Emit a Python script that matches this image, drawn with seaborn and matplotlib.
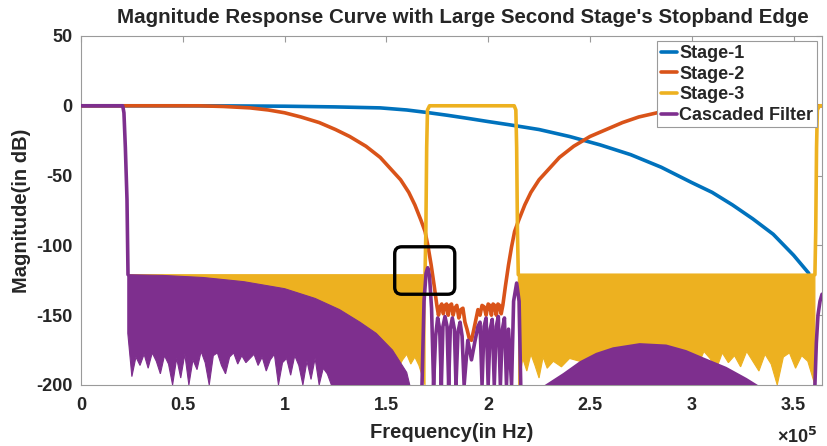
import numpy as np
import pandas as pd
import matplotlib
matplotlib.use("Agg")
import matplotlib.pyplot as plt
import seaborn as sns
from matplotlib.lines import Line2D
from matplotlib.patches import FancyBboxPatch

sns.set_style("white")
plt.rcParams["font.family"] = ["Liberation Sans", "DejaVu Sans"]
plt.rcParams["font.weight"] = "bold"

SCALE = 1e5  # frequency values below are in units of 1e5 Hz

# ---------------- data ----------------
stage1_f = [0, 0.5, 0.75, 1.0, 1.25, 1.47, 1.6, 1.7, 1.8, 1.9, 2.0, 2.1, 2.25, 2.4,
            2.55, 2.7, 2.85, 3.0, 3.1, 3.2, 3.3, 3.4, 3.5, 3.575]
stage1_db = [0, 0, -0.1, -0.3, -0.8, -1.5, -3, -4.8, -6.8, -9, -11.3, -13.5, -17, -22,
             -28, -35, -44, -55, -62, -71, -81, -92, -107, -120]

stage2_f = [0, 0.5, 0.58, 0.7, 0.83, 0.92, 1.0, 1.08, 1.17, 1.25, 1.32, 1.40, 1.47,
            1.52, 1.57, 1.61, 1.64, 1.67, 1.69, 1.705, 1.72, 1.735, 1.748,
            1.756, 1.764, 1.772, 1.780, 1.788, 1.796, 1.804, 1.812, 1.820, 1.828,
            1.836, 1.846, 1.856, 1.866, 1.876, 1.886, 1.896, 1.906, 1.918,
            1.930, 1.940, 1.950, 1.960, 1.970, 1.980, 1.990, 2.000, 2.008,
            2.016, 2.024, 2.032, 2.040, 2.048, 2.056, 2.064, 2.072,
            2.085, 2.10, 2.115, 2.13, 2.15, 2.18, 2.21, 2.25, 2.30, 2.35,
            2.42, 2.50, 2.58, 2.66, 2.74, 2.83, 2.91, 3.03, 3.15, 3.24, 3.64]
stage2_db = [0, 0, 0, -0.5, -1.5, -3, -5, -8, -12, -17, -22, -29, -37,
             -45, -53, -62, -71, -82, -90, -101, -114, -129, -143,
             -150, -144, -142, -149, -143, -142, -150, -143, -142, -150,
             -145, -143, -152, -146, -145, -155, -160, -166, -168,
             -160, -153, -146, -150, -143, -144, -150, -142, -143,
             -150, -142, -143, -150, -142, -143, -149, -143,
             -129, -114, -101, -90, -82, -71, -62, -53, -45, -37,
             -29, -22, -17, -12, -8, -5, -3, -1.5, -0.5, 0, 0]

stage3_f = [1.69, 1.694, 1.698, 1.702, 1.712, 2.128, 2.136, 2.140, 2.144, 2.148,
            3.605, 3.609, 3.613, 3.617, 3.627, 3.64]
stage3_db = [-121, -90, -30, -3, 0, 0, -3, -30, -90, -121,
             -121, -90, -30, -3, 0, 0]

stage3_left_f = [0.24, 1.69]
stage3_left_top = [-121, -121]
stage3_left_bot_f = [0.24, 0.5, 0.8, 1.1, 1.25, 1.28, 1.31, 1.34, 1.37, 1.40, 1.43,
                     1.46, 1.49, 1.52, 1.55, 1.58, 1.60, 1.62, 1.64, 1.66, 1.69]
stage3_left_bot_db = [-175, -176, -176, -176, -180, -186, -178, -192, -181, -176, -188,
                      -179, -184, -177, -190, -182, -178, -185, -180, -186, -200]

stage3_right_f = [2.148, 3.605]
stage3_right_top = [-120.5, -120.5]
stage3_right_bot_f = [2.15, 2.17, 2.19, 2.21, 2.23, 2.25, 2.27, 2.29, 2.32, 2.36, 2.40,
                      2.5, 2.7, 2.9, 3.0, 3.03, 3.06, 3.09, 3.12, 3.15, 3.18, 3.21,
                      3.24, 3.27, 3.30, 3.33, 3.36, 3.39, 3.42, 3.45, 3.48, 3.51,
                      3.54, 3.57, 3.605]
stage3_right_bot_db = [-200, -181, -190, -178, -186, -195, -180, -188, -183, -187, -181,
                       -185, -180, -182, -178, -186, -176, -181, -189, -177, -184, -179,
                       -187, -176, -183, -190, -178, -185, -200, -180, -177, -188,
                       -179, -183, -200]

casc_f = [0, 0.205, 0.211, 0.218, 0.226, 0.231]
casc_db = [0, 0, -5, -30, -67, -121]

casc_mid_f = [1.675, 1.685, 1.695, 1.703, 1.712, 1.722, 1.732,
              1.742, 1.752, 1.762, 1.770, 1.778, 1.788, 1.798, 1.806,
              1.814, 1.824, 1.834, 1.842, 1.852, 1.862, 1.872, 1.882,
              1.900, 1.918, 1.936, 1.950, 1.960, 1.970, 1.980, 1.990,
              2.000, 2.010, 2.020, 2.030, 2.040, 2.050, 2.060, 2.070,
              2.080, 2.090, 2.100, 2.115, 2.125, 2.140, 2.152, 2.160]
casc_mid_db = [-200, -140, -120, -116, -122, -145, -200,
               -165, -152, -160, -200, -158, -151, -158, -200,
               -160, -152, -160, -200, -162, -155, -165, -200,
               -168, -182, -168, -158, -155, -200, -158, -152, -200,
               -160, -153, -200, -158, -151, -200, -160, -152,
               -200, -160, -200, -140, -127, -140, -200]

casc_right_f = [3.605, 3.612, 3.62, 3.63, 3.64]
casc_right_db = [-200, -170, -150, -140, -135]

casc_left_top_f = [0.23, 0.4, 0.6, 0.8, 1.0, 1.15, 1.27, 1.37, 1.45, 1.53, 1.60, 1.615]
casc_left_top_db = [-121, -121.5, -123, -126, -131, -138, -146, -155, -163, -175, -191, -200]
casc_left_bot_f = [0.23, 0.25, 0.27, 0.29, 0.31, 0.33, 0.35, 0.37, 0.39, 0.41, 0.43,
                   0.45, 0.47, 0.49, 0.51, 0.53, 0.55, 0.57, 0.59, 0.61, 0.63,
                   0.65, 0.67, 0.69, 0.71, 0.73, 0.75, 0.77, 0.79, 0.81, 0.83,
                   0.85, 0.87, 0.89, 0.91, 0.93, 0.95, 0.97, 0.99, 1.01, 1.03,
                   1.05, 1.07, 1.09, 1.11, 1.13, 1.15, 1.17, 1.19, 1.21, 1.23, 1.25]
casc_left_bot_db = [-163, -194, -180, -186, -178, -188, -177, -183, -192, -179, -185,
                    -200, -181, -195, -178, -200, -182, -189, -176, -184, -200,
                    -179, -177, -186, -192, -180, -177, -185, -179, -184, -181,
                    -178, -186, -180, -190, -182, -178, -200, -184, -181, -193,
                    -179, -186, -200, -183, -196, -181, -200, -188, -192, -200, -200]

casc_dome_f = [2.278, 2.368, 2.45, 2.53, 2.613, 2.744, 2.875, 2.973, 3.07, 3.17, 3.27, 3.325]
casc_dome_db = [-200, -191.5, -183, -177, -173, -170, -171, -175, -181, -187, -195, -200]

labels = ["Stage-1", "Stage-2", "Stage-3", "Cascaded Filter"]
colors = ["#0072BD", "#D95319", "#EDB120", "#7E2F8E"]
xtick_vals = [0, 0.5, 1, 1.5, 2, 2.5, 3, 3.5]
xtick_labels = ["0", "0.5", "1", "1.5", "2", "2.5", "3", "3.5"]
ytick_vals = [-200, -150, -100, -50, 0, 50]
ytick_labels = ["-200", "-150", "-100", "-50", "0", "50"]
box_f = [1.541, 1.836]
box_db = [-135, -101]

# ---------------- figure ----------------
fig = plt.figure(figsize=(8.28, 4.46), dpi=100)
ax = fig.add_axes([0.0978, 0.1368, 0.8950, 0.7825])


def line(fx, dbs, color, z, lw=2.6):
    df = pd.DataFrame({"f": np.asarray(fx) * SCALE, "db": dbs})
    sns.lineplot(data=df, x="f", y="db", sort=False, estimator=None, color=color,
                 linewidth=lw, ax=ax, zorder=z, legend=False)


def poly(top_f, top_db, bot_f, bot_db, color, z):
    xs = np.concatenate([np.asarray(top_f), np.asarray(bot_f)[::-1]]) * SCALE
    ys = np.concatenate([np.asarray(top_db), np.asarray(bot_db)[::-1]])
    ax.fill(xs, ys, color=color, lw=0.8, ec=color, zorder=z)


line(stage1_f, stage1_db, colors[0], 2)
line(stage2_f, stage2_db, colors[1], 3)
poly(stage3_left_f, stage3_left_top, stage3_left_bot_f, stage3_left_bot_db, colors[2], 4)
poly(stage3_right_f, stage3_right_top, stage3_right_bot_f, stage3_right_bot_db, colors[2], 4)
line(stage3_f[:10], stage3_db[:10], colors[2], 4)
line(stage3_f[10:], stage3_db[10:], colors[2], 4)
poly(casc_left_top_f, casc_left_top_db, casc_left_bot_f, casc_left_bot_db, colors[3], 5)
ax.fill(np.asarray(casc_dome_f) * SCALE, casc_dome_db, color=colors[3], lw=0, zorder=5)
line(casc_f, casc_db, colors[3], 5)
line(casc_mid_f, casc_mid_db, colors[3], 5)
line(casc_right_f, casc_right_db, colors[3], 5)

# highlight box
px_per_x = 0.8950 * 828 / (3.64 * SCALE)
px_per_y = 0.7825 * 446 / 250
box = FancyBboxPatch((box_f[0] * SCALE, box_db[0]), (box_f[1] - box_f[0]) * SCALE,
                     box_db[1] - box_db[0],
                     boxstyle="round,pad=0,rounding_size=%f" % (7 / px_per_x),
                     mutation_aspect=px_per_x / px_per_y,
                     fc="none", ec="black", lw=2.4, zorder=7)
ax.add_patch(box)

ax.set_xlim(0, 3.64 * SCALE)
ax.set_ylim(-200, 50)
ax.set_xticks([v * SCALE for v in xtick_vals])
ax.set_xticklabels(xtick_labels)
ax.set_yticks(ytick_vals)
ax.set_yticklabels(ytick_labels)
ax.tick_params(direction="in", top=True, right=True, length=4, width=0.8,
               color="#9a9a9a", labelsize=13, pad=6)
ax.tick_params(axis="x", pad=9)
for sp in ax.spines.values():
    sp.set_color("#9a9a9a")
    sp.set_linewidth(0.8)

ax.set_xlabel("Frequency(in Hz)", fontsize=14.5, fontweight="bold", labelpad=6)
ax.set_ylabel("Magnitude(in dB)", fontsize=14.5, fontweight="bold", labelpad=4)
ax.set_title("Magnitude Response Curve with Large Second Stage's Stopband Edge",
             fontsize=14.8, fontweight="bold", pad=9, x=0.515)
fig.text(0.988, 1 - 437 / 446, r"×10$^{\mathbf{5}}$", ha="right", va="center",
         fontsize=13, fontweight="bold")

handles = [Line2D([], [], color=c, lw=2.6) for c in colors]
leg = ax.legend(handles, labels, loc="upper right", fontsize=13, handlelength=0.9,
                handletextpad=0.12, labelspacing=0.2, borderpad=0.2,
                borderaxespad=0.3, fancybox=False, framealpha=1,
                edgecolor="#9a9a9a", prop={"weight": "bold", "size": 13})
leg.get_frame().set_linewidth(0.8)
leg.set_zorder(10)

fig.savefig("out.png", dpi=100)
